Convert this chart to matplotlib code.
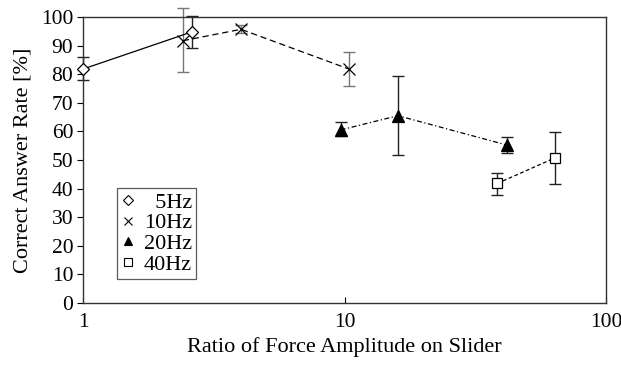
import matplotlib.pyplot as plt

plt.rcParams['font.family'] = ['Liberation Serif', 'DejaVu Serif']

# 5Hz
x5 = [1.0, 2.61]
y5 = [81.8, 94.8]
lo5 = [78.0, 89.3]
hi5 = [86.0, 100.5]

# 10Hz
x10 = [2.41, 4.02, 10.4]
y10 = [91.7, 95.7, 81.8]
lo10 = [80.8, 94.4, 75.9]
hi10 = [103.0, 97.2, 87.7]

# 20Hz
x20 = [9.67, 16.0, 41.9]
y20 = [60.5, 65.5, 55.2]
lo20 = [58.4, 51.7, 52.3]
hi20 = [63.4, 79.4, 58.2]

# 40Hz
x40 = [38.4, 64.0]
y40 = [41.8, 50.8]
lo40 = [37.8, 41.5]
hi40 = [45.6, 59.9]

fig = plt.figure(figsize=(6.21, 3.67), dpi=100)
ax = fig.add_axes([83 / 621, 1 - 303 / 367, (606 - 83) / 621, (303 - 17) / 367])


def yerr(y, lo, hi):
    return [[a - b for a, b in zip(y, lo)], [b - a for a, b in zip(y, hi)]]


def series(x, y, lo, hi, ls, marker, mfc, ms, ecolor, label):
    ax.errorbar(x, y, yerr=yerr(y, lo, hi), fmt='none', ecolor=ecolor,
                elinewidth=1.0, capsize=4, capthick=1.0, clip_on=False, zorder=2)
    ax.plot(x, y, color='black', linestyle=ls, linewidth=0.9, zorder=3)
    ax.plot(x, y, linestyle='none', marker=marker, color='black', mfc=mfc,
            mec='black', ms=ms, mew=0.9, zorder=4, clip_on=False)
    # legend handle
    ax.plot([], [], linestyle='none', marker=marker, color='black', mfc=mfc,
            mec='black', ms=ms * 0.75, mew=0.8, label=label)


series(x5, y5, lo5, hi5, '-', 'D', 'white', 6.5, '#222222', '  5Hz')
series(x10, y10, lo10, hi10, (0, (5, 3)), 'x', 'white', 8, '#777777', '10Hz')
series(x20, y20, lo20, hi20, (0, (4, 2, 1, 2)), '^', 'black', 8, '#222222', '20Hz')
series(x40, y40, lo40, hi40, (0, (3, 2)), 's', 'white', 7, '#222222', '40Hz')

ax.set_xscale('log')
ax.set_xlim(1, 100)
ax.set_ylim(0, 100)
ax.set_yticks(range(0, 101, 10))
ax.set_xticks([1, 10, 100])
ax.set_xticklabels(['1', '10', '100'])
ax.xaxis.set_minor_locator(plt.NullLocator())
ax.tick_params(axis='y', direction='out', length=4, labelsize=15.5, width=0.8, pad=3)
ax.tick_params(axis='x', direction='in', length=4, labelsize=15.5, width=0.8, pad=7)
for s in ax.spines.values():
    s.set_linewidth(1.0)
    s.set_color('#333333')

ax.set_ylabel('Correct Answer Rate [%]', fontsize=16, labelpad=6)
ax.set_xlabel('Ratio of Force Amplitude on Slider', fontsize=16, labelpad=4)

leg = ax.legend(loc='lower left', bbox_to_anchor=(0.065, 0.084), fontsize=16,
                frameon=True, fancybox=False, edgecolor='#333333',
                handlelength=0.6, handletextpad=0.4, borderpad=0.2,
                labelspacing=0.0, borderaxespad=0)
leg.get_frame().set_linewidth(0.9)

fig.savefig('out.png', dpi=100)
